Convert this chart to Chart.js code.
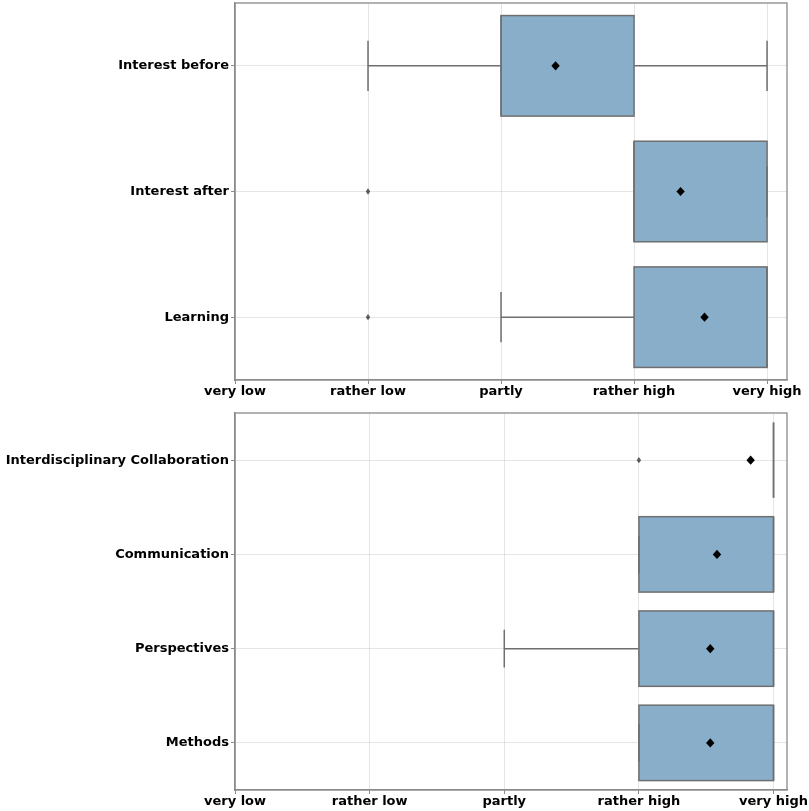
<!DOCTYPE html>
<html>
<head>
<meta charset="utf-8">
<script src="https://cdn.jsdelivr.net/npm/chart.js@4.4.1/dist/chart.umd.min.js"></script>
<style>
  html, body { margin: 0; padding: 0; background: #fff; }
  #topWrap { width: 809px; height: 407px; position: relative; }
  #bottomWrap { width: 809px; height: 404px; position: relative; }
</style>
</head>
<body>
<div id="topWrap"><canvas id="topChart"></canvas></div>
<div id="bottomWrap"><canvas id="bottomChart"></canvas></div>
<script>
// answer scale shown on the x axis (0..4)
const scaleLabels = ["very low", "rather low", "partly", "rather high", "very high"];

// top panel
const topCats = ["Interest before", "Interest after", "Learning"];
const topQ1 = [2, 3, 3];
const topMedian = [2, 3, 4];
const topQ3 = [3, 4, 4];
const topWhiskerLow = [1, 3, 2];
const topWhiskerHigh = [4, 4, 4];
const topMean = [2.41, 3.35, 3.53];
const topOutliers = [[], [1], [1]];

// bottom panel
const bottomCats = ["Interdisciplinary Collaboration", "Communication", "Perspectives", "Methods"];
const bottomQ1 = [4, 3, 3, 3];
const bottomMedian = [4, 4, 4, 4];
const bottomQ3 = [4, 4, 4, 4];
const bottomWhiskerLow = [4, 3, 2, 3];
const bottomWhiskerHigh = [4, 4, 4, 4];
const bottomMean = [3.83, 3.58, 3.53, 3.53];
const bottomOutliers = [[3], [], [], []];

const boxFill = "#89aec9";
const lineGray = "#6f6f6f";
const frameGray = "#8a8a8a";
const labelFont = { family: "DejaVu Sans", size: 13, weight: "bold" };

function diamond(ctx, x, y, hw, hh) {
  ctx.beginPath();
  ctx.moveTo(x, y - hh);
  ctx.lineTo(x + hw, y);
  ctx.lineTo(x, y + hh);
  ctx.lineTo(x - hw, y);
  ctx.closePath();
  ctx.fill();
}

// draws box outlines, medians, whiskers, caps, outliers and means
function makeBoxPlugin(s) {
  return {
    id: "boxes",
    afterDatasetsDraw(chart) {
      const { ctx, scales: { x, y } } = chart;
      const step = y.getPixelForValue(1) - y.getPixelForValue(0);
      const hb = step * 0.4, hc = step * 0.2;
      ctx.save();
      ctx.lineWidth = 1.5;
      ctx.strokeStyle = lineGray;
      s.cats.forEach((c, i) => {
        const cy = y.getPixelForValue(i);
        const p1 = x.getPixelForValue(s.q1[i]);
        const p3 = x.getPixelForValue(s.q3[i]);
        const pm = x.getPixelForValue(s.median[i]);
        const pl = x.getPixelForValue(s.low[i]);
        const ph = x.getPixelForValue(s.high[i]);

        ctx.strokeRect(p1, cy - hb, p3 - p1, 2 * hb);

        ctx.beginPath();
        ctx.moveTo(pm, cy - hb); ctx.lineTo(pm, cy + hb);
        // whiskers
        ctx.moveTo(pl, cy); ctx.lineTo(p1, cy);
        ctx.moveTo(p3, cy); ctx.lineTo(ph, cy);
        // caps
        ctx.moveTo(pl, cy - hc); ctx.lineTo(pl, cy + hc);
        ctx.moveTo(ph, cy - hc); ctx.lineTo(ph, cy + hc);
        ctx.stroke();

        ctx.fillStyle = "#5a5a5a";
        s.outliers[i].forEach(v => diamond(ctx, x.getPixelForValue(v), cy, 2.2, 3.2));

        ctx.fillStyle = "#000";
        diamond(ctx, x.getPixelForValue(s.mean[i]), cy, 4.2, 4.6);
      });
      ctx.restore();
    },
    afterDraw(chart) {
      const { ctx, chartArea: a } = chart;
      ctx.save();
      ctx.strokeStyle = frameGray;
      ctx.lineWidth = 1.3;
      ctx.strokeRect(a.left, a.top, a.right - a.left, a.bottom - a.top);
      ctx.restore();
    }
  };
}

function makeChart(id, s, xMax, pad, axisHeight) {
  return new Chart(document.getElementById(id), {
    type: "bar",
    data: {
      labels: s.cats,
      datasets: [{
        data: s.cats.map((c, i) => [s.q1[i], s.q3[i]]),
        backgroundColor: boxFill,
        borderWidth: 0,
        categoryPercentage: 0.8,
        barPercentage: 1.0
      }]
    },
    options: {
      indexAxis: "y",
      responsive: true,
      maintainAspectRatio: false,
      animation: false,
      layout: { padding: { top: pad, right: 22, left: 0, bottom: 0 } },
      plugins: { legend: { display: false }, tooltip: { enabled: false } },
      scales: {
        x: {
          type: "linear",
          min: 0,
          max: xMax,
          z: 1,
          afterFit: sc => {
            sc.height = axisHeight;
            sc.paddingLeft = 0;
            sc.paddingRight = 0;
          },
          ticks: {
            stepSize: 1,
            includeBounds: false,
            color: "#000",
            font: labelFont,
            padding: 0,
            maxRotation: 0,
            callback: v => scaleLabels[v]
          },
          grid: { color: "rgba(190,190,190,0.4)", tickColor: frameGray, tickLength: 4 },
          border: { color: frameGray, width: 1.3 }
        },
        y: {
          type: "category",
          offset: true,
          z: 1,
          afterFit: sc => {
            sc.width = 235;
            sc.paddingTop = 0;
            sc.paddingBottom = 0;
          },
          ticks: { color: "#000", font: labelFont, padding: 2 },
          grid: { offset: false, color: "rgba(190,190,190,0.4)", tickColor: frameGray, tickLength: 4 },
          border: { color: frameGray, width: 1.3 }
        }
      }
    },
    plugins: [makeBoxPlugin(s)]
  });
}

makeChart("topChart", {
  cats: topCats, q1: topQ1, median: topMedian, q3: topQ3,
  low: topWhiskerLow, high: topWhiskerHigh, mean: topMean, outliers: topOutliers
}, 4.15, 3, 27);

makeChart("bottomChart", {
  cats: bottomCats, q1: bottomQ1, median: bottomMedian, q3: bottomQ3,
  low: bottomWhiskerLow, high: bottomWhiskerHigh, mean: bottomMean, outliers: bottomOutliers
}, 4.1, 6, 21);
</script>
</body>
</html>
